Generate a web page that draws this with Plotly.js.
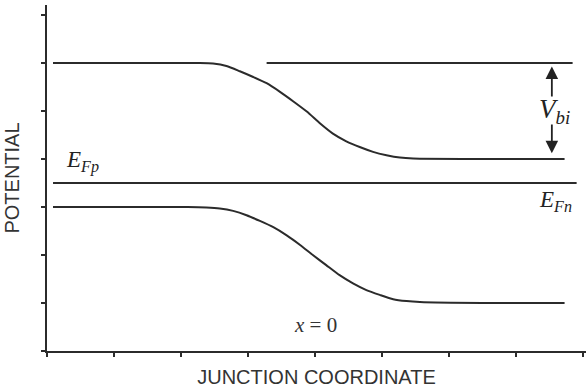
<!DOCTYPE html>
<html>
<head>
<meta charset="utf-8">
<script src="https://cdn.plot.ly/plotly-3.0.1.min.js"></script>
<style>html,body{margin:0;padding:0;background:#fff;}#chart{width:586px;height:388px;}</style>
</head>
<body>
<div id="chart"></div>
<script>
// Upper band edge (p side high, n side low)
const upperX = [0.09, 1.2, 2.0, 2.28, 2.48, 2.68, 2.88, 3.08, 3.28, 3.48, 3.68, 3.88, 4.08, 4.27, 4.47, 4.67, 4.87, 5.07, 5.27, 5.47, 6.5, 7.73];
const upperY = [6.0, 6.0, 6.0, 6.0, 5.99, 5.94, 5.83, 5.71, 5.58, 5.40, 5.20, 4.99, 4.74, 4.53, 4.37, 4.25, 4.15, 4.08, 4.03, 4.01, 4.0, 4.0];
// Lower band edge
const lowerX = [0.09, 1.2, 2.1, 2.38, 2.58, 2.78, 2.98, 3.18, 3.38, 3.58, 3.78, 3.97, 4.17, 4.37, 4.57, 4.77, 4.97, 5.17, 5.37, 5.57, 6.5, 7.73];
const lowerY = [3.0, 3.0, 3.0, 2.99, 2.97, 2.92, 2.83, 2.71, 2.58, 2.41, 2.21, 2.00, 1.79, 1.58, 1.41, 1.27, 1.17, 1.08, 1.04, 1.02, 1.0, 1.0];
// Fermi level
const fermiX = [0.09, 7.91];
const fermiY = [3.5, 3.5];
// Reference level for V_bi
const refX = [3.28, 7.85];
const refY = [6.0, 6.0];

const xTicks = [0, 1, 2, 3, 4, 5, 6, 7, 8];
const yTicks = [0, 1, 2, 3, 4, 5, 6, 7];

const lineStyle = {color: '#2b2b2b', width: 2};

const traces = [
  {x: upperX, y: upperY, mode: 'lines', line: Object.assign({shape: 'spline', smoothing: 0.6}, lineStyle), hoverinfo: 'skip'},
  {x: lowerX, y: lowerY, mode: 'lines', line: Object.assign({shape: 'spline', smoothing: 0.6}, lineStyle), hoverinfo: 'skip'},
  {x: fermiX, y: fermiY, mode: 'lines', line: lineStyle, hoverinfo: 'skip'},
  {x: refX, y: refY, mode: 'lines', line: lineStyle, hoverinfo: 'skip'}
];

const serif = 'Liberation Serif, Times New Roman, serif';
const annFont = {family: serif, size: 23, color: '#222'};

const layout = {
  width: 586, height: 388,
  margin: {l: 47, r: 0, t: 5, b: 37},
  paper_bgcolor: '#fff', plot_bgcolor: '#fff',
  showlegend: false,
  xaxis: {
    range: [0, 8.05], tickvals: xTicks, showticklabels: false,
    ticks: 'outside', ticklen: 4, tickwidth: 2, tickcolor: '#2b2b2b',
    showline: true, linecolor: '#2b2b2b', linewidth: 2,
    showgrid: false, zeroline: false, fixedrange: true,
    title: {text: 'JUNCTION COORDINATE', standoff: 17,
            font: {family: 'Liberation Sans, Arial, sans-serif', size: 20, color: '#333'}}
  },
  yaxis: {
    range: [0, 7.21], tickvals: yTicks, showticklabels: false,
    ticks: 'outside', ticklen: 4, tickwidth: 2, tickcolor: '#2b2b2b',
    showline: true, linecolor: '#2b2b2b', linewidth: 2,
    showgrid: false, zeroline: false, fixedrange: true,
    title: {text: 'POTENTIAL', standoff: 16,
            font: {family: 'Liberation Sans, Arial, sans-serif', size: 20, color: '#333'}}
  },
  annotations: [
    {x: 0.53, y: 3.94, xref: 'x', yref: 'y', text: '<i>E<sub>Fp</sub></i>', showarrow: false, font: annFont},
    {x: 7.6, y: 3.13, xref: 'x', yref: 'y', text: '<i>E<sub>Fn</sub></i>', showarrow: false, font: annFont},
    {x: 7.58, y: 5.0, xref: 'x', yref: 'y', text: '<i>V<sub>bi</sub></i>', showarrow: false, font: {family: serif, size: 27, color: '#222'}},
    {x: 4.01, y: 0.54, xref: 'x', yref: 'y', text: '<i>x</i> = 0', showarrow: false, font: {family: serif, size: 21, color: '#333'}},
    {x: 7.54, y: 5.93, ax: 7.54, ay: 5.27, xref: 'x', yref: 'y', axref: 'x', ayref: 'y', text: '', showarrow: true,
     arrowhead: 2, arrowsize: 1.4, arrowwidth: 1.8, arrowcolor: '#222'},
    {x: 7.54, y: 4.12, ax: 7.54, ay: 4.75, xref: 'x', yref: 'y', axref: 'x', ayref: 'y', text: '', showarrow: true,
     arrowhead: 2, arrowsize: 1.4, arrowwidth: 1.8, arrowcolor: '#222'}
  ]
};

Plotly.newPlot('chart', traces, layout, {staticPlot: true, displayModeBar: false});
</script>
</body>
</html>
